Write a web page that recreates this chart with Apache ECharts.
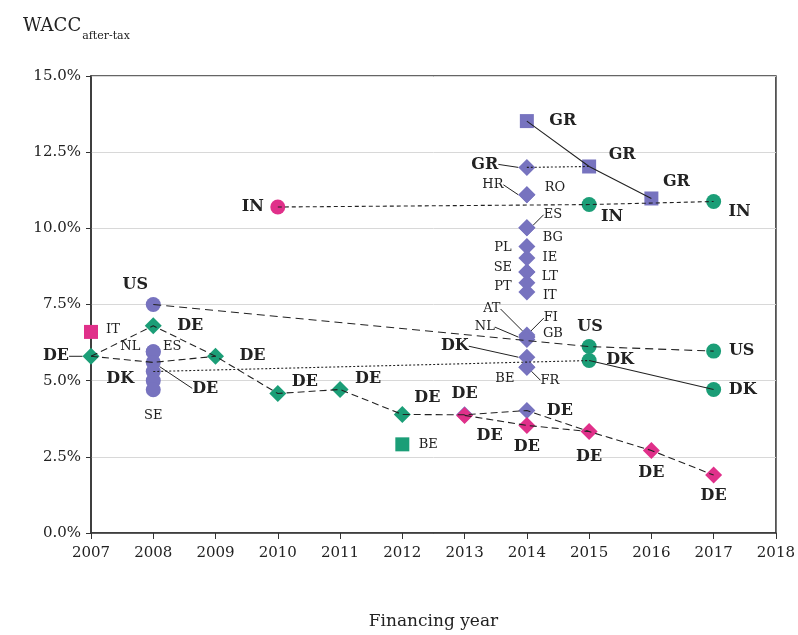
<!DOCTYPE html>
<html>
<head>
<meta charset="utf-8">
<script src="https://cdn.jsdelivr.net/npm/echarts@6/dist/echarts.min.js"></script>
<style>
html,body{margin:0;padding:0;background:#fff;}
#chart{width:798px;height:635px;}
</style>
</head>
<body>
<div id="chart"></div>
<script>
// points: [year, WACC %, label]
const purpleCircles=[[2008,7.5,'US'],[2008,5.95,'NL'],[2008,5.95,'ES'],[2008,5.6,'DE'],[2008,5.3,'DK'],[2008,5.0,''],[2008,4.7,'SE']];
const purpleDiamonds=[[2014,12.0,'GR'],[2014,11.1,'HR'],[2014,11.1,'RO'],[2014,10.02,'ES'],[2014,10.02,'BG'],[2014,9.4,'PL'],[2014,9.03,'IE'],[2014,8.57,'SE'],[2014,8.57,'LT'],[2014,8.21,'PT'],[2014,7.91,'IT'],[2014,6.5,'AT'],[2014,6.43,'NL'],[2014,6.43,'FI'],[2014,6.35,'GB'],[2014,5.77,'DK'],[2014,5.44,'BE'],[2014,5.44,'FR'],[2014,4.02,'DE'],[2013,3.88,'DE']];
const purpleSquares=[[2014,13.52,'GR'],[2015,12.03,'GR'],[2016,10.98,'GR']];
const greenDiamonds=[[2007,5.8,'DE'],[2008,6.8,'DE'],[2009,5.8,'DE'],[2010,4.58,'DE'],[2011,4.71,'DE'],[2012,3.89,'DE']];
const greenCircles=[[2015,10.78,'IN'],[2017,10.88,'IN'],[2015,6.12,'US'],[2015,5.66,'DK'],[2017,5.97,'US'],[2017,4.71,'DK']];
const greenSquares=[[2012,2.91,'BE']];
const magentaCircles=[[2010,10.7,'IN']];
const magentaSquares=[[2007,6.6,'IT']];
const magentaDiamonds=[[2013,3.86,'DE'],[2014,3.53,'DE'],[2015,3.33,'DE'],[2016,2.71,'DE'],[2017,1.9,'DE']];

// connecting lines
const lineGRsq=[[2014,13.52],[2015,12.03],[2016,10.98]];
const lineGRdia=[[2014,12.0],[2015,12.03]];
const lineIN=[[2010,10.7],[2015,10.78],[2017,10.88]];
const lineUS=[[2008,7.5],[2015,6.12],[2017,5.97]];
const lineDKa=[[2008,5.3],[2015,5.66]];
const lineDKb=[[2015,5.66],[2017,4.71]];
const lineDEa=[[2007,5.8],[2008,6.8],[2009,5.8],[2010,4.58],[2011,4.71],[2012,3.89],[2013,3.88],[2014,4.02],[2015,3.33]];
const lineDEc=[[2007,5.8],[2008,5.6],[2009,5.8]];
const lineDEb=[[2013,3.86],[2014,3.53],[2015,3.33],[2016,2.71],[2017,1.9]];

const yearTicks=[2007,2008,2009,2010,2011,2012,2013,2014,2015,2016,2017,2018];

// label placement (pixel shift from marker centre), kept apart from the data
const purpleCircleLabelAt=[[-18,-20],[-23,-5],[19,-5],[52,26],[-33,7],[0,0],[0,26]];
const purpleDiamondLabelAt=[[-42,-3],[-34,-10],[28,-7],[26,-13],[26,10],[-24,1],[23,0],[-24,-4],[23,5],[-24,4],[23,4],[-35,-26],[-42,-10],[24,-19],[26,-6],[-72,-11],[-22,11],[23,13],[33,0],[0,-21]];
const purpleSquareLabelAt=[[36,0],[33,-12],[25,-17]];
const greenDiamondLabelAt=[[-35,0],[37,0],[37,0],[27,-12],[28,-11],[25,-17]];
const greenCircleLabelAt=[[23,12],[26,10],[1,-20],[31,-1],[28,0],[29,0]];
const greenSquareLabelAt=[[26,0]];
const magentaCircleLabelAt=[[-25,0]];
const magentaSquareLabelAt=[[22,-2]];
const magentaDiamondLabelAt=[[25,20],[0,21],[0,25],[0,22],[0,21]];

const FONT='DejaVu Serif';
const PURPLE='#7773bf',GREEN='#1b9e77',MAGENTA='#e0308a';
const bigNames=['US','DE','DK','GR','IN'];

function pointSeries(pts,offs,leaders,symbol,size,color){
	return {
		type:'scatter',
		symbol:symbol,
		symbolSize:size,
		itemStyle:{color:color,opacity:1},
		z:5,
		data:pts.map(function(p,i){
			var big=bigNames.indexOf(p[2])>=0;
			return {
				value:[p[0],p[1]],
				name:p[2],
				label:{fontSize:big?16:13,fontWeight:big?'bold':'normal'},
				labelLine:{show:leaders.indexOf(i)>=0}
			};
		}),
		label:{
			show:true,
			position:'inside',
			color:'#222',
			fontFamily:FONT,
			formatter:function(p){return p.name;}
		},
		labelLine:{lineStyle:{color:'#222',width:1}},
		labelLayout:function(params){
			var o=offs[params.dataIndex];
			return {dx:o[0],dy:o[1]};
		},
		emphasis:{disabled:true}
	};
}

function lineSeries(pts,type){
	return {
		type:'line',
		data:pts,
		symbol:'none',
		silent:true,
		z:6,
		lineStyle:{color:'#222',width:1.1,type:type}
	};
}

const chart=echarts.init(document.getElementById('chart'));
chart.setOption({
	animation:false,
	title:{
		text:'{a|WACC}{b|after-tax}',
		left:18,
		top:12,
		textStyle:{
			rich:{
				a:{fontFamily:FONT,fontSize:18,fontWeight:'normal',color:'#222',lineHeight:28,verticalAlign:'top'},
				b:{fontFamily:FONT,fontSize:11,fontWeight:'normal',color:'#222',lineHeight:28,padding:[14,0,0,1],verticalAlign:'top'}
			}
		}
	},
	grid:{left:91,right:22,top:76,bottom:100,show:true,borderColor:'#333',borderWidth:1.5,backgroundColor:'transparent'},
	xAxis:{
		type:'value',
		min:2007,max:2018,interval:1,
		name:'Financing year',
		nameLocation:'middle',
		nameGap:80,
		nameTextStyle:{fontFamily:FONT,fontSize:17,color:'#222'},
		axisLine:{show:true,onZero:false,lineStyle:{color:'#333',width:1.5}},
		axisTick:{show:true,length:6,lineStyle:{color:'#333'}},
		axisLabel:{fontFamily:FONT,fontSize:15,color:'#222',margin:13,
			formatter:function(v){return yearTicks.indexOf(v)>=0?String(v):'';}},
		splitLine:{show:false}
	},
	yAxis:{
		type:'value',
		min:0,max:15,interval:2.5,
		axisLine:{show:true,lineStyle:{color:'#333',width:1.5}},
		axisTick:{show:true,length:5,lineStyle:{color:'#333'}},
		axisLabel:{fontFamily:FONT,fontSize:15,color:'#222',margin:10,
			formatter:function(v){return v.toFixed(1)+'%';}},
		splitLine:{show:true,lineStyle:{color:'#d8d8d8',width:1}}
	},
	series:[
		lineSeries(lineGRsq,'solid'),
		lineSeries(lineGRdia,[2,2]),
		lineSeries(lineIN,[4,3]),
		lineSeries(lineUS,[8,5]),
		lineSeries(lineDKa,[2,2]),
		lineSeries(lineDKb,'solid'),
		lineSeries(lineDEa,[7,4]),
		lineSeries(lineDEc,[7,4]),
		lineSeries(lineDEb,[7,4]),
		pointSeries(purpleCircles,purpleCircleLabelAt,[3],'circle',15,PURPLE),
		pointSeries(purpleDiamonds,purpleDiamondLabelAt,[0,1,3,11,12,13,15,17],'diamond',17,PURPLE),
		pointSeries(purpleSquares,purpleSquareLabelAt,[],'rect',14,PURPLE),
		pointSeries(greenDiamonds,greenDiamondLabelAt,[0],'diamond',17,GREEN),
		pointSeries(greenCircles,greenCircleLabelAt,[],'circle',15,GREEN),
		pointSeries(greenSquares,greenSquareLabelAt,[],'rect',14,GREEN),
		pointSeries(magentaCircles,magentaCircleLabelAt,[],'circle',15,MAGENTA),
		pointSeries(magentaSquares,magentaSquareLabelAt,[],'rect',14,MAGENTA),
		pointSeries(magentaDiamonds,magentaDiamondLabelAt,[],'diamond',17,MAGENTA)
	]
});
</script>
</body>
</html>
